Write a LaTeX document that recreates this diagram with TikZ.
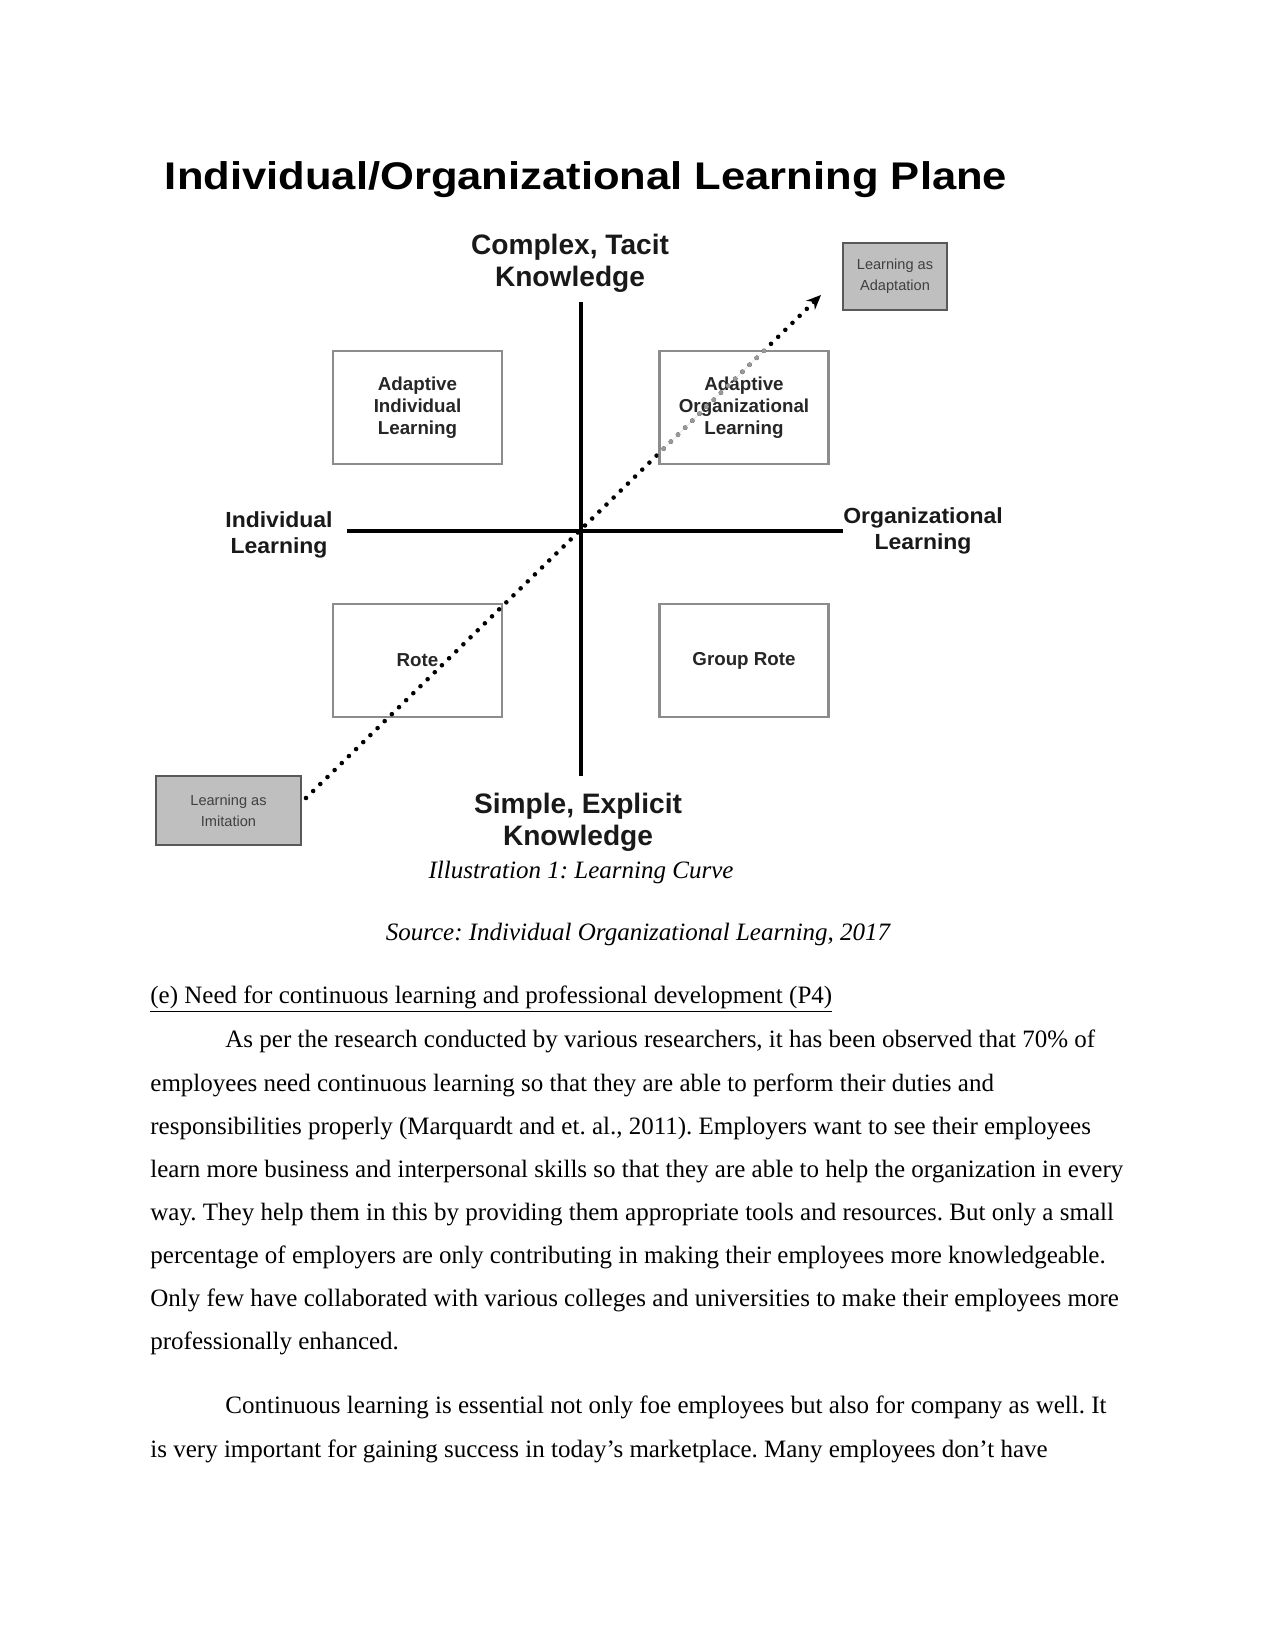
\documentclass[tikz,border=0pt]{standalone}
\usepackage{fontspec}
\setmainfont{Liberation Serif}
\newfontfamily\dsans{Liberation Sans}
\usetikzlibrary{arrows.meta}
\frenchspacing
\begin{document}
\begin{tikzpicture}[x=0.48pt,y=-0.48pt,
  wbox/.style={draw=black!45, line width=1pt, fill=white, minimum width=81.1pt, minimum height=54.2pt, inner sep=0pt, align=center, font=\dsans\bfseries\fontsize{9}{10.6}\selectfont, text=black!85},
  gbox/.style={draw=black!65, line width=1.2pt, fill=black!25, inner sep=0pt, align=center, font=\dsans\fontsize{7}{10}\selectfont, text=black!75},
  axlbl/.style={anchor=base, inner sep=0pt, font=\dsans\bfseries\fontsize{10.5}{12.6}\selectfont, text=black!90},
  kn/.style={anchor=base, inner sep=0pt, font=\dsans\bfseries\fontsize{13.5}{15.8}\selectfont, text=black!90},
  axisline/.style={line width=2pt},
  dotline/.style={line width=2.2pt, line cap=round, dash pattern=on 0pt off 4.8pt, -{Stealth[length=7pt,width=6pt]}},
  body/.style={anchor=base west, inner sep=0pt, font=\fontsize{12}{14}\selectfont},
  captext/.style={anchor=base, inner sep=0pt, font=\itshape\fontsize{12}{14}\selectfont}]
\useasboundingbox (0,0) rectangle (1275,1650);
\fill[white] (0,0) rectangle (1275,1650);
% title
\node[anchor=base, inner sep=0pt, font=\dsans\bfseries\fontsize{18.5}{20}\selectfont] (title) at (586,190) {\scalebox{1.13}[1]{Individual/Organizational Learning Plane}};
% axis labels
\node[kn] (ct1) at (570,255) {Complex, Tacit};
\node[kn] (ct2) at (570,287) {Knowledge};
\node[kn] (se1) at (578,813) {Simple, Explicit};
\node[kn] (se2) at (578,845) {Knowledge};
\node[axlbl] (il1) at (279,527) {\scalebox{1.05}[1]{Individual}};
\node[axlbl] (il2) at (279,553) {\scalebox{1.05}[1]{Learning}};
\node[axlbl] (ol1) at (923,523) {\scalebox{1.05}[1]{Organizational}};
\node[axlbl] (ol2) at (923,549) {\scalebox{1.05}[1]{Learning}};
% axes
\coordinate (vtop) at (581,302);
\coordinate (vbot) at (581,776);
\coordinate (hl) at (347,531);
\coordinate (hr) at (843,531);
\draw[axisline] (vtop) -- (vbot);
\draw[axisline] (hl) -- (hr);
% boxes
\node[wbox] (ail) at (417.5,407.5) {Adaptive\\Individual\\Learning};
\node[wbox] (aol) at (744,407.5) {Adaptive\\Organizational\\Learning};
\node[wbox] (rote) at (417.5,660.5) {Rote};
\node[wbox] (grote) at (744,660.5) {Group Rote};
\node[gbox, minimum width=49.9pt, minimum height=32.2pt] (adapt) at (895,276.5) {Learning as\\Adaptation};
\node[gbox, minimum width=69.6pt, minimum height=33.1pt] (imit) at (228.5,810.5) {Learning as\\Imitation};
% dotted arrow
\coordinate (ds) at (306,798);
\coordinate (de) at (821,295);
\draw[dotline] (ds) -- (de);
\begin{scope}
  \clip (aol.north west) rectangle (aol.south east);
  \draw[dotline, draw=black!40, fill=black!40] (ds) -- (de);
\end{scope}
% captions
\node[captext] (c1) at (581,878) {Illustration 1: Learning Curve};
\node[captext] (c2) at (638,940) {Source: Individual Organizational Learning, 2017};
% body
\node[body] (h) at (150,1003) {\underline{(e) Need for continuous learning and professional development (P4)}};
\node[body] (l1) at (225,1047) {As per the research conducted by various researchers, it has been observed that 70\% of};
\node[body] (l2) at (150,1091) {employees need continuous learning so that they are able to perform their duties and};
\node[body] (l3) at (150,1134) {responsibilities properly (Marquardt and et. al., 2011). Employers want to see their employees};
\node[body] (l4) at (150,1177) {learn more business and interpersonal skills so that they are able to help the organization in every};
\node[body] (l5) at (150,1220) {way. They help them in this by providing them appropriate tools and resources. But only a small};
\node[body] (l6) at (150,1263) {percentage of employers are only contributing in making their employees more knowledgeable.};
\node[body] (l7) at (150,1306) {Only few have collaborated with various colleges and universities to make their employees more};
\node[body] (l8) at (150,1349) {professionally enhanced.};
\node[body] (p1) at (225,1413) {Continuous learning is essential not only foe employees but also for company as well. It};
\node[body] (p2) at (150,1457) {is very important for gaining success in today’s marketplace. Many employees don’t have};
\end{tikzpicture}
\end{document}
